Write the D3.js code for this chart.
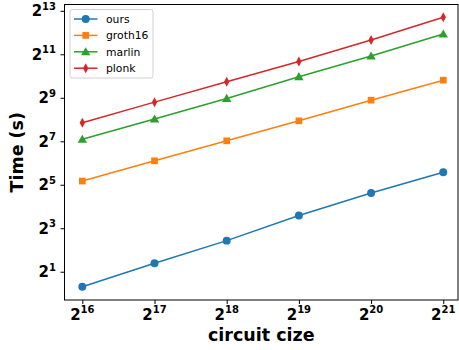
<!DOCTYPE html>
<html>
<head>
<meta charset="utf-8">
<script src="https://cdn.jsdelivr.net/npm/d3@7"></script>
<style>
  body { margin: 0; background: #fff; }
  text { font-family: "DejaVu Sans", sans-serif; }
</style>
</head>
<body>
<div class="chart"></div>
<script>
// circuit sizes (x) and proving time in seconds (y)
var sizes = [65536, 131072, 262144, 524288, 1048576, 2097152];
var ours = [1.24, 2.62, 5.39, 12.0, 24.6, 47.8];
var groth16 = [36.0, 68.6, 129.8, 245.6, 474.4, 897.6];
var marlin = [136.2, 259.6, 501.5, 1003, 1937, 3901];
var plonk = [230.7, 445.7, 855.2, 1629, 3236, 6654];
var seriesNames = ['ours', 'groth16', 'marlin', 'plonk'];
var xTickExp = [16, 17, 18, 19, 20, 21];
var yTickExp = [1, 3, 5, 7, 9, 11, 13];

var width = 459,
  height = 350,
  margin = { top: 4.5, right: 1, bottom: 50, left: 64.5 },
  colors = ['#1f77b4', '#ff7f0e', '#2ca02c', '#d62728'],
  symbols = [d3.symbolCircle, d3.symbolSquare, d3.symbolTriangle, 'thin'];

var series = [ours, groth16, marlin, plonk].map(function (vals, i) {
  return {
    name: seriesNames[i],
    points: vals.map(function (v, j) { return { x: sizes[j], y: v }; })
  };
});

var svg = d3.select('.chart')
  .append('svg')
  .attr('width', width)
  .attr('height', height);

var x = d3.scaleLog().base(2)
  .domain([Math.pow(2, 15.753), Math.pow(2, 21.204)])
  .range([margin.left, width - margin.right]);

var y = d3.scaleLog().base(2)
  .domain([Math.pow(2, -0.30), Math.pow(2, 13.29)])
  .range([height - margin.bottom, margin.top]);

// frame
svg.append('rect')
  .attr('x', margin.left)
  .attr('y', margin.top)
  .attr('width', width - margin.right - margin.left)
  .attr('height', height - margin.bottom - margin.top)
  .attr('fill', 'none')
  .attr('stroke', '#000')
  .attr('stroke-width', 1);

function powLabel(sel, exp) {
  sel.append('tspan')
    .style('font-size', '15px')
    .text('2');
  sel.append('tspan')
    .attr('dy', -6.5)
    .style('font-size', '10px')
    .text(exp);
}

// x axis
var xAxis = svg.append('g')
  .attr('transform', 'translate(0,' + (height - margin.bottom) + ')')
  .call(d3.axisBottom(x)
    .tickValues(xTickExp.map(function (e) { return Math.pow(2, e); }))
    .tickSize(4)
    .tickFormat(''));
xAxis.select('.domain').remove();
xAxis.selectAll('.tick line').attr('stroke', '#000');

xTickExp.forEach(function (e) {
  svg.append('text')
    .attr('x', x(Math.pow(2, e)))
    .attr('y', 319.5)
    .attr('text-anchor', 'middle')
    .style('font-weight', 'bold')
    .call(powLabel, e);
});

// y axis
var yAxis = svg.append('g')
  .attr('transform', 'translate(' + margin.left + ',0)')
  .call(d3.axisLeft(y)
    .tickValues(yTickExp.map(function (e) { return Math.pow(2, e); }))
    .tickSize(4)
    .tickFormat(''));
yAxis.select('.domain').remove();
yAxis.selectAll('.tick line').attr('stroke', '#000');

yTickExp.forEach(function (e) {
  svg.append('text')
    .attr('x', 56)
    .attr('y', y(Math.pow(2, e)) + 5.5)
    .attr('text-anchor', 'end')
    .style('font-weight', 'bold')
    .call(powLabel, e);
});

// axis titles
svg.append('text')
  .attr('x', (margin.left + width - margin.right) / 2)
  .attr('y', 341)
  .attr('text-anchor', 'middle')
  .style('font-size', '17.5px')
  .style('font-weight', 'bold')
  .text('circuit cize');

svg.append('text')
  .attr('transform', 'translate(23,' + ((margin.top + height - margin.bottom) / 2) + ') rotate(-90)')
  .attr('text-anchor', 'middle')
  .style('font-size', '17.5px')
  .style('font-weight', 'bold')
  .text('Time (s)');

function drawMarker(g, i, color) {
  if (symbols[i] === 'thin') {
    g.append('path')
      .attr('d', 'M0,-5 L2.7,0 L0,5 L-2.7,0 Z')
      .attr('fill', color);
  } else {
    var size = i === 0 ? 50 : i === 1 ? 45 : 38;
    g.append('path')
      .attr('d', d3.symbol().type(symbols[i]).size(size)())
      .attr('transform', i === 2 ? 'translate(0,0.8)' : null)
      .attr('fill', color);
  }
}

var line = d3.line()
  .x(function (d) { return x(d.x); })
  .y(function (d) { return y(d.y); });

series.forEach(function (s, i) {
  svg.append('path')
    .datum(s.points)
    .attr('d', line)
    .attr('fill', 'none')
    .attr('stroke', colors[i])
    .attr('stroke-width', 1.5);

  s.points.forEach(function (p) {
    var g = svg.append('g')
      .attr('transform', 'translate(' + x(p.x) + ',' + y(p.y) + ')');
    drawMarker(g, i, colors[i]);
  });
});

// legend
var legend = svg.append('g');
legend.append('rect')
  .attr('x', 70)
  .attr('y', 9.5)
  .attr('width', 83)
  .attr('height', 68.5)
  .attr('rx', 2.5)
  .attr('fill', 'rgba(255,255,255,0.8)')
  .attr('stroke', '#d0d0d0')
  .attr('stroke-width', 1);

series.forEach(function (s, i) {
  var ly = 19 + i * 16.4;
  legend.append('line')
    .attr('x1', 74)
    .attr('x2', 97.5)
    .attr('y1', ly)
    .attr('y2', ly)
    .attr('stroke', colors[i])
    .attr('stroke-width', 1.5);
  var g = legend.append('g')
    .attr('transform', 'translate(85.7,' + ly + ')');
  drawMarker(g, i, colors[i]);
  legend.append('text')
    .attr('x', 106)
    .attr('y', ly + 3.9)
    .style('font-size', '10.8px')
    .text(s.name);
});
</script>
</body>
</html>
